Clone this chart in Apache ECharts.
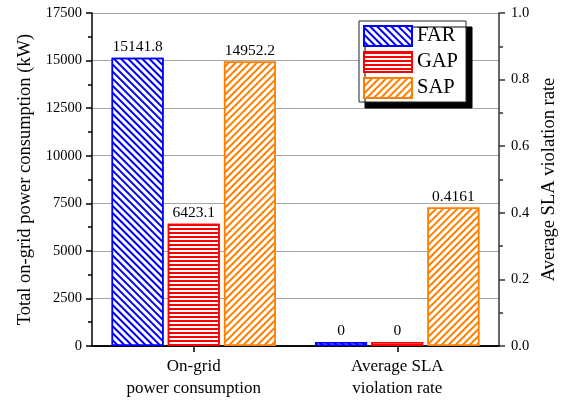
<!DOCTYPE html>
<html>
<head>
<meta charset="utf-8">
<script src="https://cdn.jsdelivr.net/npm/echarts@6/dist/echarts.min.js"></script>
<style>
  html, body { margin: 0; padding: 0; background: #fff; }
  #chart { width: 564px; height: 403px; }
</style>
</head>
<body>
<div id="chart"></div>
<script>
// Metric groups along the x axis
var categories = ['On-grid\npower consumption', 'Average SLA\nviolation rate'];
// Strategies shown in the legend
var seriesNames = ['FAR', 'GAP', 'SAP'];
// Total on-grid power consumption (kW), left axis
var powerValues = [15141.8, 6423.1, 14952.2];
// Average SLA violation rate, right axis
var slaValues = [0, 0, 0.4161];
// Tick settings
var powerTicks = { min: 0, max: 17500, interval: 2500 };
var slaTicks = { min: 0, max: 1.0, interval: 0.2 };

var colors = ['#0000ff', '#ff0000', '#ff8000'];
var FONT = "'Liberation Serif', 'Times New Roman', serif";

var decals = [
  { symbol: 'rect', symbolSize: 1, dashArrayX: [1, 0], dashArrayY: [2, 2.3], rotation: Math.PI / 4 },
  { symbol: 'rect', symbolSize: 1, dashArrayX: [1, 0], dashArrayY: [2, 2], rotation: 0 },
  { symbol: 'rect', symbolSize: 1, dashArrayX: [1, 0], dashArrayY: [2, 2.3], rotation: -Math.PI / 4 }
];

function makeSeries(i, axis, value) {
  var data = axis === 0 ? [value, '-'] : ['-', value];
  return {
    name: seriesNames[i],
    type: 'bar',
    xAxisIndex: axis,
    yAxisIndex: axis,
    data: data,
    barWidth: 52,
    barGap: '8%',
    barMinHeight: 4,
    itemStyle: {
      color: '#ffffff',
      borderColor: colors[i],
      borderWidth: 1.5,
      decal: Object.assign({ color: colors[i] }, decals[i])
    },
    label: {
      show: true,
      position: 'top',
      distance: 3,
      color: '#000',
      fontFamily: FONT,
      fontSize: 15.5
    },
    emphasis: { disabled: true }
  };
}

var series = [];
for (var i = 0; i < seriesNames.length; i++) {
  series.push(makeSeries(i, 0, powerValues[i]));
  series.push(makeSeries(i, 1, slaValues[i]));
}

var chart = echarts.init(document.getElementById('chart'), null, { renderer: 'canvas' });
chart.setOption({
  animation: false,
  backgroundColor: '#ffffff',
  grid: { left: 92, right: 65, top: 13, bottom: 57, containLabel: false, outerBoundsMode: 'none' },
  legend: {
    data: seriesNames.map(function (n) { return { name: n, icon: 'rect' }; }),
    icon: 'rect',
    orient: 'vertical',
    left: 359,
    top: 21,
    itemWidth: 48,
    itemHeight: 20,
    itemGap: 4,
    padding: [4, 8, 3, 4],
    backgroundColor: '#ffffff',
    borderColor: '#222',
    borderWidth: 1,
    borderRadius: 0,
    shadowColor: '#000',
    shadowBlur: 0,
    shadowOffsetX: 6,
    shadowOffsetY: 6,
    selectedMode: false,
    textStyle: { fontFamily: FONT, fontSize: 20.5, lineHeight: 20, color: '#000' }
  },
  xAxis: [
    {
      type: 'category',
      position: 'bottom',
      data: categories,
      axisLine: { show: true, lineStyle: { color: '#000', width: 1.5 } },
      axisTick: { show: true, alignWithLabel: true, inside: false, length: 6, lineStyle: { color: '#000', width: 1.5 } },
      axisLabel: { interval: 0, margin: 10, color: '#000', fontFamily: FONT, fontSize: 17, lineHeight: 22 },
      splitLine: { show: false }
    },
    {
      type: 'category',
      position: 'top',
      data: categories,
      axisLine: { show: true, lineStyle: { color: '#000', width: 1.5 } },
      axisTick: { show: true, alignWithLabel: true, inside: true, length: 6, lineStyle: { color: '#000', width: 1.5 } },
      axisLabel: { show: false },
      splitLine: { show: false }
    }
  ],
  yAxis: [
    {
      type: 'value',
      position: 'left',
      min: powerTicks.min,
      max: powerTicks.max,
      interval: powerTicks.interval,
      name: 'Total on-grid power consumption (kW)',
      nameLocation: 'middle',
      nameRotate: 90,
      nameGap: 57,
      nameTextStyle: { fontFamily: FONT, fontSize: 18.5, color: '#000' },
      axisLine: { show: true, lineStyle: { color: '#000', width: 1.5 } },
      axisTick: { show: true, inside: false, length: 6, lineStyle: { color: '#000', width: 1.5 } },
      minorTick: { show: true, splitNumber: 2, length: 4, lineStyle: { color: '#000', width: 1.5 } },
      axisLabel: {
        margin: 10, color: '#000', fontFamily: FONT, fontSize: 14.5,
        formatter: function (v) { return String(v); }
      },
      splitLine: { show: true, lineStyle: { color: '#a6a6a6', width: 1.2 } }
    },
    {
      type: 'value',
      position: 'right',
      min: slaTicks.min,
      max: slaTicks.max,
      interval: slaTicks.interval,
      name: 'Average SLA violation rate',
      nameLocation: 'middle',
      nameRotate: 90,
      nameGap: 41,
      nameTextStyle: { fontFamily: FONT, fontSize: 18.5, color: '#000' },
      axisLine: { show: true, lineStyle: { color: '#333', width: 1.5 } },
      axisTick: { show: true, inside: false, length: 6, lineStyle: { color: '#333', width: 1.5 } },
      minorTick: { show: true, splitNumber: 2, length: 4, lineStyle: { color: '#333', width: 1.5 } },
      axisLabel: {
        margin: 12, color: '#000', fontFamily: FONT, fontSize: 14.5,
        formatter: function (v) { return v.toFixed(1); }
      },
      splitLine: { show: false }
    }
  ],
  series: series
});
</script>
</body>
</html>
